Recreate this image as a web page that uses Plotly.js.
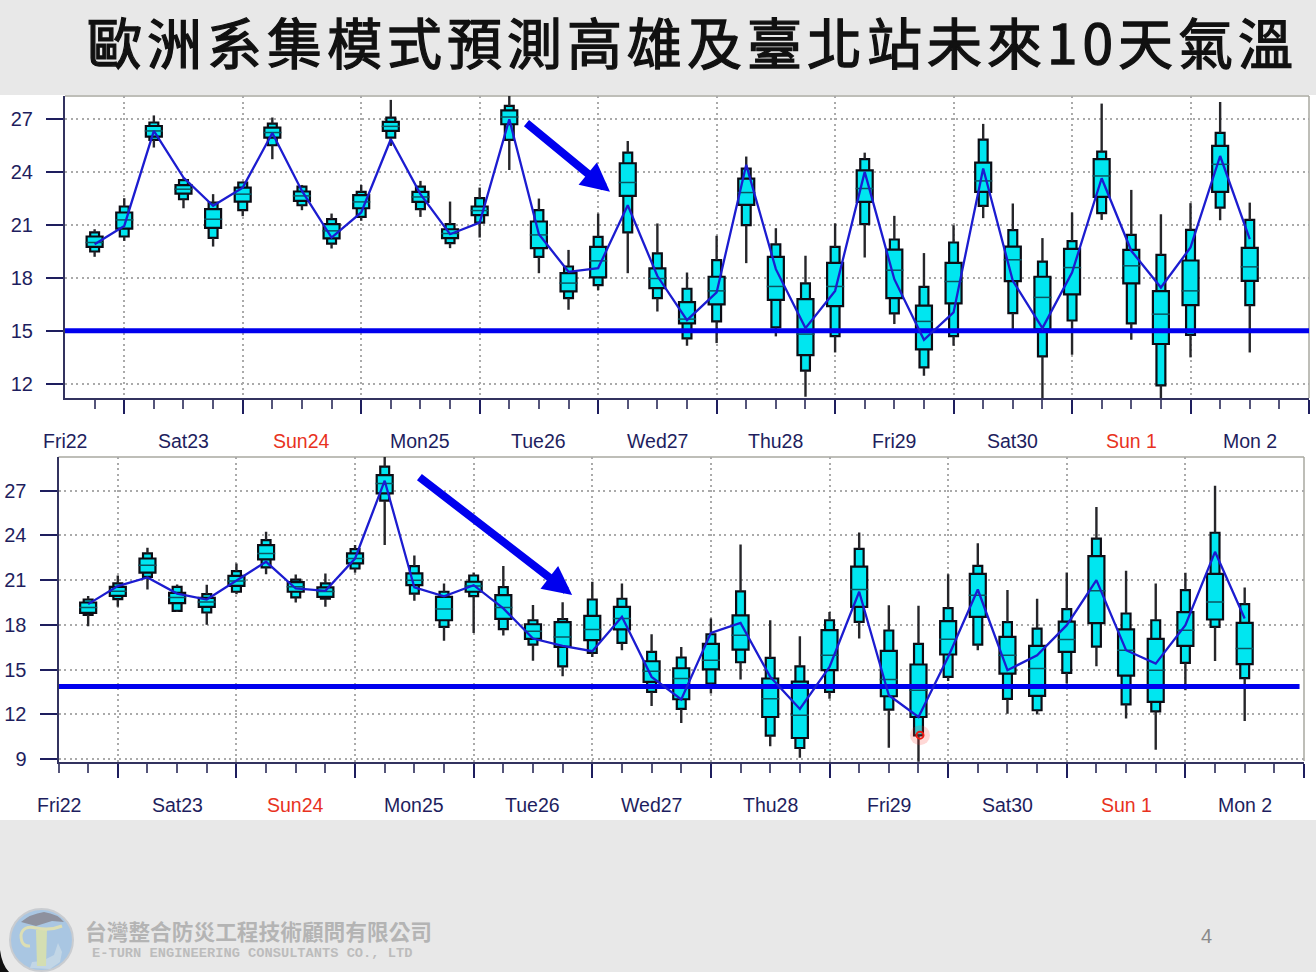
<!DOCTYPE html>
<html>
<head>
<meta charset="utf-8">
<script src="https://cdn.plot.ly/plotly-3.0.1.min.js"></script>
<style>
html, body { margin: 0; padding: 0; background: #e8e8e8; overflow: hidden; }
#chart { width: 1316px; height: 972px; }
</style>
</head>
<body>
<div id="chart"></div>
<script>
// 6-hourly forecast steps, 4 per day
const steps = Array.from({ length: 40 }, (_, i) => i + 1);
const dayLabels = ['Fri22', 'Sat23', 'Sun24', 'Mon25', 'Tue26', 'Wed27', 'Thu28', 'Fri29', 'Sat30', 'Sun 1', 'Mon 2'];
const dayLabelSteps = [0, 4, 8, 12, 16, 20, 24, 28, 32, 36, 40];
const redDays = ['Sun24', 'Sun 1'];
const majorTicks = [2, 6, 10, 14, 18, 22, 26, 30, 34, 38, 42];
const yTicksTop = [12, 15, 18, 21, 24, 27];
const yTicksBottom = [9, 12, 15, 18, 21, 24, 27];

// Kaohsiung (top panel)
const topWhiskerHi = [20.75, 22.51, 27.2, 23.64, 22.74, 23.45, 27.08, 23.26, 21.64, 23.26, 28.08, 23.49, 22.32, 23.11, 28.4, 22.49, 19.58, 21.64, 25.75, 21.08, 18.3, 20.38, 24.87, 20.81, 19.25, 21.08, 25.09, 21.51, 19.4, 20.98, 26.72, 22.21, 20.25, 21.7, 27.87, 22.98, 21.6, 22.23, 27.96, 22.26];
const topOuterHi = [20.57, 22.04, 26.8, 23.53, 22.26, 23.4, 26.74, 23.17, 21.32, 22.87, 27.08, 23.17, 21.04, 22.51, 27.74, 21.83, 18.64, 20.32, 25.09, 19.38, 17.38, 19.0, 24.19, 19.89, 17.68, 19.75, 24.72, 20.17, 17.49, 20.0, 25.83, 20.7, 18.92, 20.08, 25.15, 20.43, 19.3, 20.72, 26.21, 21.28];
const topInnerHi = [20.34, 21.7, 26.6, 23.25, 21.89, 23.11, 26.51, 22.89, 21.04, 22.68, 26.83, 22.87, 20.75, 22.04, 27.49, 21.19, 18.26, 19.75, 24.49, 18.53, 16.62, 18.06, 23.62, 19.19, 16.79, 18.85, 24.09, 19.6, 16.42, 18.85, 24.53, 19.77, 18.06, 19.64, 24.72, 19.58, 17.25, 18.98, 25.47, 19.7];
const topMedian = [20.0, 21.28, 26.32, 23.02, 21.32, 22.74, 26.23, 22.64, 20.66, 22.3, 26.58, 22.58, 20.51, 21.81, 27.11, 20.43, 17.7, 18.96, 23.4, 17.96, 15.66, 17.26, 22.83, 17.51, 14.81, 17.51, 23.06, 18.43, 15.53, 17.79, 23.49, 19.02, 16.89, 18.58, 23.77, 18.68, 15.94, 17.26, 24.43, 18.62];
const topInnerLo = [19.75, 20.79, 26.0, 22.77, 20.83, 22.32, 25.94, 22.36, 20.23, 21.94, 26.32, 22.3, 20.25, 21.55, 26.7, 19.68, 17.23, 18.02, 22.64, 17.42, 15.42, 16.49, 22.13, 16.75, 13.62, 16.4, 22.3, 16.85, 13.94, 16.55, 22.87, 17.81, 15.08, 17.06, 22.58, 17.68, 14.25, 16.45, 22.87, 17.83];
const topOuterLo = [19.49, 20.34, 25.81, 22.45, 20.26, 21.83, 25.51, 22.11, 19.94, 21.45, 25.94, 21.89, 19.96, 21.13, 25.81, 19.19, 16.85, 17.58, 20.57, 16.85, 14.57, 15.53, 20.98, 15.19, 12.74, 14.7, 21.04, 15.98, 12.92, 14.7, 22.08, 16.0, 13.55, 15.58, 21.66, 15.42, 11.91, 14.77, 21.98, 16.45];
const topWhiskerLo = [19.19, 20.09, 25.38, 21.94, 19.77, 21.49, 24.72, 21.83, 19.66, 21.23, 25.47, 21.45, 19.68, 20.28, 24.11, 18.26, 16.19, 17.3, 18.26, 16.09, 14.15, 14.3, 18.83, 14.68, 11.26, 13.77, 19.15, 15.38, 12.45, 14.15, 21.38, 15.09, 11.19, 13.64, 21.28, 14.49, 11.19, 13.49, 21.26, 13.77];
const topHres = [19.9, 20.94, 26.32, 23.68, 22.08, 23.11, 26.2, 22.92, 20.28, 21.7, 25.85, 22.74, 20.47, 21.13, 26.98, 20.47, 18.34, 18.55, 22.11, 18.1, 15.6, 17.17, 24.4, 18.49, 15.15, 17.26, 24.0, 17.92, 14.49, 16.04, 24.19, 17.83, 15.15, 18.3, 23.64, 19.53, 17.45, 19.72, 24.9, 20.19];

// Taipei (bottom panel)
const botWhiskerHi = [19.93, 21.31, 23.17, 20.71, 20.69, 22.12, 24.25, 21.38, 21.45, 23.35, 29.3, 22.66, 20.78, 21.51, 21.94, 19.34, 19.52, 20.89, 20.78, 17.37, 16.52, 18.43, 23.39, 18.31, 17.24, 18.87, 24.2, 19.32, 19.28, 21.4, 23.48, 20.33, 19.75, 21.51, 25.9, 21.63, 20.78, 21.49, 27.33, 20.51];
const botOuterHi = [19.7, 20.78, 22.79, 20.55, 20.06, 21.6, 23.69, 21.04, 20.78, 23.08, 28.61, 21.94, 20.22, 21.31, 20.53, 18.31, 18.38, 19.7, 19.75, 16.19, 15.81, 17.37, 20.24, 15.78, 15.22, 18.31, 23.1, 17.62, 16.72, 19.12, 21.96, 18.18, 17.75, 19.05, 23.78, 18.76, 18.31, 20.33, 24.18, 19.39];
const botInnerHi = [19.5, 20.55, 22.45, 20.15, 19.81, 21.29, 23.35, 20.87, 20.51, 22.79, 28.05, 21.45, 19.88, 20.89, 19.99, 18.04, 18.18, 18.6, 19.21, 15.56, 15.09, 16.72, 18.63, 14.4, 14.19, 17.64, 21.9, 16.25, 15.34, 18.25, 21.42, 17.19, 16.59, 18.22, 22.61, 17.69, 17.06, 18.85, 21.42, 18.13];
const botMedian = [19.16, 20.26, 22.0, 19.84, 19.54, 20.95, 22.79, 20.55, 20.24, 22.45, 27.49, 21.0, 19.07, 20.6, 19.16, 17.57, 17.19, 17.69, 18.43, 14.89, 14.4, 15.63, 17.31, 13.05, 11.93, 15.96, 20.37, 14.33, 13.61, 17.04, 19.99, 15.96, 15.07, 17.01, 20.28, 16.3, 14.96, 17.64, 19.54, 16.41];
const botInnerLo = [18.81, 19.95, 21.51, 19.46, 19.21, 20.62, 22.39, 20.22, 19.88, 22.12, 26.82, 20.66, 18.31, 20.22, 18.4, 17.06, 16.52, 16.97, 17.69, 14.17, 13.01, 15.02, 16.34, 11.82, 10.41, 14.96, 19.21, 13.21, 11.82, 16.01, 18.54, 14.73, 13.23, 16.19, 18.11, 14.6, 12.83, 16.59, 18.36, 15.36];
const botOuterLo = [18.67, 19.72, 21.22, 18.94, 18.83, 20.22, 21.85, 19.84, 19.75, 21.78, 26.33, 20.1, 17.87, 19.93, 17.71, 16.68, 15.22, 16.12, 16.79, 13.5, 12.36, 14.06, 15.49, 10.57, 9.74, 13.5, 18.2, 12.31, 10.59, 14.51, 16.68, 13.03, 12.27, 14.78, 16.54, 12.67, 12.2, 15.45, 17.87, 14.42];
const botWhiskerLo = [17.91, 19.21, 20.37, 18.87, 18.0, 20.06, 21.4, 19.5, 19.21, 21.49, 23.35, 19.61, 16.93, 17.46, 17.28, 15.6, 14.55, 15.85, 16.3, 12.56, 11.42, 13.39, 14.33, 9.85, 9.09, 13.05, 17.08, 9.76, 8.8, 14.24, 16.3, 12.04, 11.98, 14.06, 15.22, 11.71, 9.63, 13.61, 15.58, 11.55];
const botHres = [19.39, 20.6, 21.18, 20.1, 19.7, 20.95, 22.23, 20.44, 20.28, 22.45, 27.67, 20.51, 19.92, 20.66, 19.1, 17.08, 16.59, 16.23, 18.54, 14.51, 13.0, 17.46, 18.13, 14.51, 12.36, 15.18, 20.22, 13.28, 11.82, 15.85, 20.37, 14.96, 15.96, 17.98, 21.0, 16.3, 15.4, 17.98, 22.9, 18.43];

const topThreshold = 15;
const botThreshold = 13.86;
const cursorStep = [29.05];
const cursorValue = [10.6];

const W = 1316, H = 972;
const NAVY = '#1e1e5e', FRAME = '#a8a8a0', BOX = '#00e6f0', INK = '#0c0c14';
const BLUE = '#0000ee', HRES = '#1c1cd0', GRID = '#aaaaaa', GRID_DASH = '2px,3.5px';
const px = x => x / W;
const py = y => 1 - y / H;

function panelTraces(xa, ya, wHi, oHi, iHi, med, iLo, oLo, wLo, hres, thresholdX, threshold) {
    const boxLine = { color: INK, width: 2.2 };
    return [
        { type: 'bar', xaxis: xa, yaxis: ya, x: steps, base: oLo, y: oHi.map((v, i) => v - oLo[i]), width: 0.3,
          marker: { color: BOX, line: boxLine }, hoverinfo: 'skip' },
        { type: 'bar', xaxis: xa, yaxis: ya, x: steps, base: iLo, y: iHi.map((v, i) => v - iLo[i]), width: 0.54,
          marker: { color: BOX, line: boxLine }, hoverinfo: 'skip' },
        // whiskers stop at the narrow box so they do not cross it
        { type: 'scatter', mode: 'lines', xaxis: xa, yaxis: ya,
          x: steps.flatMap(s => [s, s, null, s, s, null]),
          y: steps.flatMap((s, i) => [wHi[i], oHi[i], null, oLo[i], wLo[i], null]),
          line: { color: '#26262a', width: 2.4 }, hoverinfo: 'skip' },
        { type: 'scatter', mode: 'markers', xaxis: xa, yaxis: ya, x: steps, y: med,
          marker: { symbol: 'line-ew', size: 13, line: { color: '#0a5560', width: 1.5 } }, hoverinfo: 'skip' },
        { type: 'scatter', mode: 'lines', xaxis: xa, yaxis: ya, x: thresholdX, y: thresholdX.map(() => threshold),
          line: { color: BLUE, width: 5 }, hoverinfo: 'skip' },
        { type: 'scatter', mode: 'lines', xaxis: xa, yaxis: ya, x: steps, y: hres,
          line: { color: HRES, width: 2.3 }, name: 'HRES' }
    ];
}

let data = panelTraces('x', 'y', topWhiskerHi, topOuterHi, topInnerHi, topMedian, topInnerLo, topOuterLo, topWhiskerLo, topHres, [0, 42], topThreshold)
    .concat(panelTraces('x2', 'y2', botWhiskerHi, botOuterHi, botInnerHi, botMedian, botInnerLo, botOuterLo, botWhiskerLo, botHres, [0, 41.85], botThreshold));

// red cursor dot on the Taipei panel
data.push({ type: 'scatter', mode: 'markers', xaxis: 'x2', yaxis: 'y2', x: cursorStep, y: cursorValue,
    marker: { size: 20, color: 'rgba(255,60,50,0.2)' }, hoverinfo: 'skip' });
data.push({ type: 'scatter', mode: 'markers', xaxis: 'x2', yaxis: 'y2', x: cursorStep, y: cursorValue,
    marker: { size: 7, symbol: 'circle-open', color: '#f01c14', line: { color: '#f01c14', width: 2 } }, hoverinfo: 'skip' });

function xAxis(domain, minorVals, anchor) {
    return {
        domain: domain, range: [0, 42], anchor: anchor, zeroline: false,
        tickmode: 'array', tickvals: majorTicks, ticktext: majorTicks.map(() => ''),
        ticks: 'outside', ticklen: 14, tickwidth: 2.2, tickcolor: NAVY,
        showline: true, linecolor: '#33335f', linewidth: 2,
        showgrid: true, gridcolor: GRID, griddash: GRID_DASH, gridwidth: 1.5,
        minor: { tickmode: 'array', tickvals: minorVals, ticks: 'outside', ticklen: 9, tickwidth: 1.5, tickcolor: '#55557a', showgrid: false }
    };
}

function yAxis(domain, range, vals, anchor) {
    return {
        domain: domain, range: range, anchor: anchor, zeroline: false,
        tickmode: 'array', tickvals: vals, ticks: 'outside', ticklen: 17, tickwidth: 2.2, tickcolor: NAVY,
        ticklabelstandoff: 9, tickfont: { family: 'Liberation Sans', size: 20, color: NAVY },
        showline: true, linecolor: '#33335f', linewidth: 2,
        showgrid: true, gridcolor: GRID, griddash: GRID_DASH, gridwidth: 1.5
    };
}

const minorTop = Array.from({ length: 41 }, (_, i) => i + 1).filter(s => !majorTicks.includes(s));
const minorBot = [0].concat(minorTop);

function dayAnnotations(xref, yPx) {
    return dayLabels.map((t, i) => ({
        text: t, xref: xref, yref: 'paper', x: dayLabelSteps[i], y: py(yPx), yanchor: 'middle', xanchor: 'center', showarrow: false,
        font: { family: 'Liberation Sans', size: 19.5, color: redDays.includes(t) ? '#e8321e' : NAVY }
    }));
}

const annotations = dayAnnotations('x', 440.5).concat(dayAnnotations('x2', 804.5)).concat([
    { text: '<span style="letter-spacing:5px;stroke:#111111;stroke-width:1.3px">歐洲系集模式預測高雄及臺北站未來10天氣溫</span>', xref: 'paper', yref: 'paper', x: px(693), y: py(40), xanchor: 'center', yanchor: 'middle', showarrow: false,
      font: { family: 'Noto Sans CJK TC', size: 55, color: '#111111' } },
    // arrows marking the cooling trend
    { xref: 'x', yref: 'y', axref: 'x', ayref: 'y', x: 18.4, y: 22.87, ax: 15.53, ay: 26.83, text: '', showarrow: true, arrowhead: 2, arrowsize: 0.72, arrowwidth: 8, arrowcolor: BLUE },
    { xref: 'x2', yref: 'y2', axref: 'x2', ayref: 'y2', x: 17.32, y: 20.0, ax: 12.12, ay: 27.99, text: '', showarrow: true, arrowhead: 2, arrowsize: 0.72, arrowwidth: 8, arrowcolor: BLUE },
    // footer
    { text: '<b>台灣整合防災工程技術顧問有限公司</b>', xref: 'paper', yref: 'paper', x: px(83), y: py(930), xanchor: 'left', yanchor: 'middle', showarrow: false,
      font: { family: 'Noto Sans CJK TC', size: 21.7, color: '#b4b4b4' } },
    { text: '<b>E-TURN ENGINEERING CONSULTANTS CO., LTD</b>', xref: 'paper', yref: 'paper', x: px(90), y: py(953), xanchor: 'left', yanchor: 'middle', showarrow: false,
      font: { family: 'Liberation Mono', size: 13.7, color: '#bcbcbc' } },
    { text: '4', xref: 'paper', yref: 'paper', x: px(1206), y: py(936), xanchor: 'center', yanchor: 'middle', showarrow: false,
      font: { family: 'Liberation Sans', size: 20, color: '#8a8a8a' } }
]);

function pxRect(x0, y0, x1, y1, fill) {
    return { type: 'rect', xref: 'paper', yref: 'paper', x0: px(x0), y0: py(y0), x1: px(x1), y1: py(y1), fillcolor: fill, line: { width: 0 }, layer: 'below' };
}
function pxLine(x0, y0, x1, y1) {
    return { type: 'line', xref: 'paper', yref: 'paper', x0: px(x0), y0: py(y0), x1: px(x1), y1: py(y1), line: { color: FRAME, width: 1.5 }, layer: 'below' };
}
// closed or open path from [x, y] pixel pairs, or Q triples
function pxPath(points) {
    return points.map((p, i) => {
        if (p.length === 4) return `Q ${px(p[0])} ${py(p[1])} ${px(p[2])} ${py(p[3])}`;
        return `${i ? 'L' : 'M'} ${px(p[0])} ${py(p[1])}`;
    }).join(' ');
}
function logoPath(points, fill, stroke, width) {
    return { type: 'path', xref: 'paper', yref: 'paper', path: pxPath(points) + (fill ? ' Z' : ''),
             fillcolor: fill || 'rgba(0,0,0,0)', line: { color: stroke || 'rgba(0,0,0,0)', width: width || 0 } };
}

const shapes = [
    pxRect(0, 95, 1316, 820, '#ffffff'),
    pxLine(65, 96, 1309, 96), pxLine(1309, 96, 1309, 398),
    pxLine(58.5, 457, 1304, 457), pxLine(1304, 457, 1304, 761),
    // logo disc, rain hatch, clouds, pale column and scroll
    { type: 'circle', xref: 'paper', yref: 'paper', x0: px(10), x1: px(73), y0: py(971), y1: py(909), fillcolor: '#a9c6e2', line: { color: '#c9ccd0', width: 2 } },
    logoPath([[21, 922], [30, 914, 44, 912], [58, 914, 64, 922], [52, 921], [36, 926]], '#8e919e'),
    logoPath([[30, 968], [32, 962], [42, 961], [54, 955], [58, 943], [62, 952], [60, 962], [50, 969]], '#c2d6e6'),
    logoPath([[36, 930], [47, 929], [46, 966], [37, 966]], '#d4deb2'),
    logoPath([[62, 926], [50, 931, 36, 928], [23, 925, 21, 935], [21, 947, 30, 946]], null, '#dcdeb4', 3),
    // slide corner
    logoPath([[0, 950], [2, 965, 9, 972], [0, 972]], '#111111')
];

const layout = {
    width: W, height: H, margin: { l: 0, r: 0, t: 0, b: 0 },
    paper_bgcolor: '#e8e8e8', plot_bgcolor: 'rgba(0,0,0,0)',
    showlegend: false, barmode: 'overlay', hovermode: false,
    xaxis: xAxis([px(65), px(1309)], minorTop, 'y'),
    yaxis: yAxis([py(398), py(96)], [11.19, 28.3], yTicksTop, 'x'),
    xaxis2: xAxis([px(58.5), px(1304)], minorBot, 'y2'),
    yaxis2: yAxis([py(761.7), py(457)], [8.82, 29.26], yTicksBottom, 'x2'),
    shapes: shapes,
    annotations: annotations
};

Plotly.newPlot('chart', data, layout, { displayModeBar: false });
</script>
</body>
</html>
